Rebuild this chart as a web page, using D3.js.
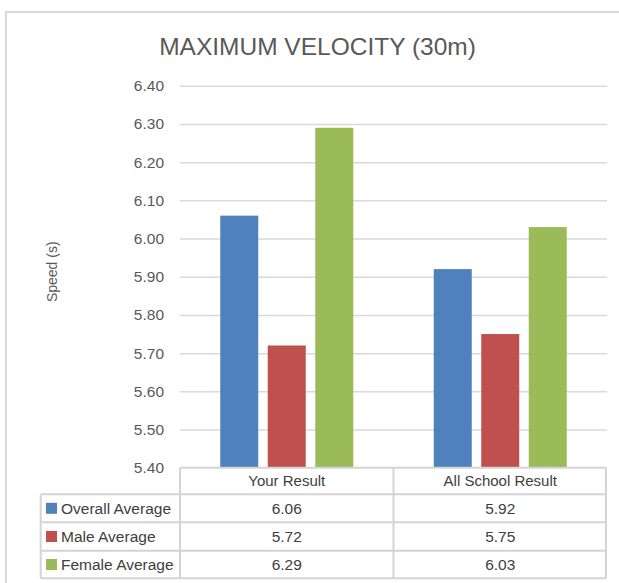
<!DOCTYPE html>
<html>
<head>
<meta charset="utf-8">
<script src="https://cdn.jsdelivr.net/npm/d3@7"></script>
<style>
  html, body { margin: 0; padding: 0; background: #fff; }
  svg { display: block; font-family: "Liberation Sans", Arial, sans-serif; }
</style>
</head>
<body>
<svg id="chart" width="619" height="583"></svg>
<script>
// ---- data ----
const categories = ["Your Result", "All School Result"];
const seriesNames = ["Overall Average", "Male Average", "Female Average"];
const seriesColors = ["#4f81bd", "#c0504d", "#9bbb59"];
const overallAverage = [6.06, 5.92];
const maleAverage = [5.72, 5.75];
const femaleAverage = [6.29, 6.03];
const yTicks = [5.40, 5.50, 5.60, 5.70, 5.80, 5.90, 6.00, 6.10, 6.20, 6.30, 6.40];
const chartTitle = "MAXIMUM VELOCITY (30m)";
const yAxisTitle = "Speed (s)";

const seriesValues = [overallAverage, maleAverage, femaleAverage];

// ---- layout ----
const svg = d3.select("#chart");
const plot = { left: 180, right: 607, top: 85.8, bottom: 467.7 };
const tableLeft = 40.7, tableRight = 606;
const rowLines = [467.7, 494.3, 522.3, 550.7, 578.3];

// outer frame
svg.append("rect")
  .attr("x", 6).attr("y", 12).attr("width", 640).attr("height", 600)
  .attr("fill", "#fff").attr("stroke", "#d9d9d9").attr("stroke-width", 2);

// title
svg.append("text")
  .attr("x", 317.5).attr("y", 55)
  .attr("text-anchor", "middle")
  .attr("font-size", 24.5)
  .attr("fill", "#595959")
  .text(chartTitle);

// scales
const y = d3.scaleLinear().domain([5.4, 6.4]).range([plot.bottom, plot.top]);
const x0 = d3.scaleBand().domain(categories).range([plot.left, plot.right]).padding(0);
const x1 = d3.scaleBand().domain(seriesNames).range([0, x0.bandwidth()])
  .paddingInner(0.2).paddingOuter(0.847);

// gridlines + y labels
const yAxis = d3.axisLeft(y)
  .tickValues(yTicks)
  .tickFormat(d3.format(".2f"))
  .tickSize(-(plot.right - plot.left))
  .tickPadding(16);
const gy = svg.append("g").attr("transform", `translate(${plot.left},0)`).call(yAxis);
gy.select(".domain").remove();
gy.selectAll(".tick line").attr("stroke", "#d9d9d9").attr("stroke-width", 1.5)
  .filter(d => d === 5.4).remove();
gy.selectAll(".tick text")
  .attr("font-size", 15.5)
  .attr("font-family", "'Liberation Sans', Arial, sans-serif")
  .attr("fill", "#595959");

// y axis title
svg.append("text")
  .attr("transform", `translate(57,${(plot.top + plot.bottom) / 2 - 5}) rotate(-90)`)
  .attr("text-anchor", "middle")
  .attr("font-size", 14)
  .attr("fill", "#595959")
  .text(yAxisTitle);

// bars
const groups = svg.append("g").selectAll("g")
  .data(categories)
  .join("g")
  .attr("transform", c => `translate(${x0(c)},0)`);
groups.selectAll("rect")
  .data((c, ci) => seriesNames.map((s, si) => ({ s, si, v: seriesValues[si][ci] })))
  .join("rect")
  .attr("x", d => x1(d.s))
  .attr("width", x1.bandwidth())
  .attr("y", d => y(d.v))
  .attr("height", d => y(5.4) - y(d.v))
  .attr("fill", d => seriesColors[d.si]);

// ---- data table ----
const tg = svg.append("g");
const lineColor = "#d4d4d4";
// horizontal lines
tg.append("line").attr("x1", plot.left).attr("x2", tableRight)
  .attr("y1", rowLines[0]).attr("y2", rowLines[0])
  .attr("stroke", lineColor).attr("stroke-width", 2);
rowLines.slice(1).forEach(yy => {
  tg.append("line").attr("x1", tableLeft).attr("x2", tableRight)
    .attr("y1", yy).attr("y2", yy)
    .attr("stroke", lineColor).attr("stroke-width", 2);
});
// vertical lines
tg.append("line").attr("x1", tableLeft).attr("x2", tableLeft)
  .attr("y1", rowLines[1]).attr("y2", rowLines[4])
  .attr("stroke", lineColor).attr("stroke-width", 2);
const colEdges = [plot.left, x0(categories[1]), tableRight];
colEdges.forEach(xx => {
  tg.append("line").attr("x1", xx).attr("x2", xx)
    .attr("y1", rowLines[0]).attr("y2", rowLines[4])
    .attr("stroke", lineColor).attr("stroke-width", 2);
});

const colCenter = c => (x0(c) + x0.bandwidth() / 2);
// header
tg.selectAll("text.hdr").data(categories).join("text")
  .attr("class", "hdr")
  .attr("x", c => colCenter(c))
  .attr("y", (rowLines[0] + rowLines[1]) / 2)
  .attr("dy", "0.35em")
  .attr("text-anchor", "middle")
  .attr("font-size", 15)
  .attr("fill", "#404040")
  .text(c => c);

// rows
seriesNames.forEach((s, si) => {
  const cy = (rowLines[si + 1] + rowLines[si + 2]) / 2;
  tg.append("rect").attr("x", 46).attr("y", cy - 5.5).attr("width", 11).attr("height", 11)
    .attr("fill", seriesColors[si]);
  tg.append("text").attr("x", 61).attr("y", cy).attr("dy", "0.35em")
    .attr("font-size", 15.5).attr("fill", "#404040").text(s);
  categories.forEach((c, ci) => {
    tg.append("text").attr("x", colCenter(c)).attr("y", cy).attr("dy", "0.35em")
      .attr("text-anchor", "middle")
      .attr("font-size", 15.5).attr("fill", "#404040")
      .text(d3.format(".2f")(seriesValues[si][ci]));
  });
});
</script>
</body>
</html>
